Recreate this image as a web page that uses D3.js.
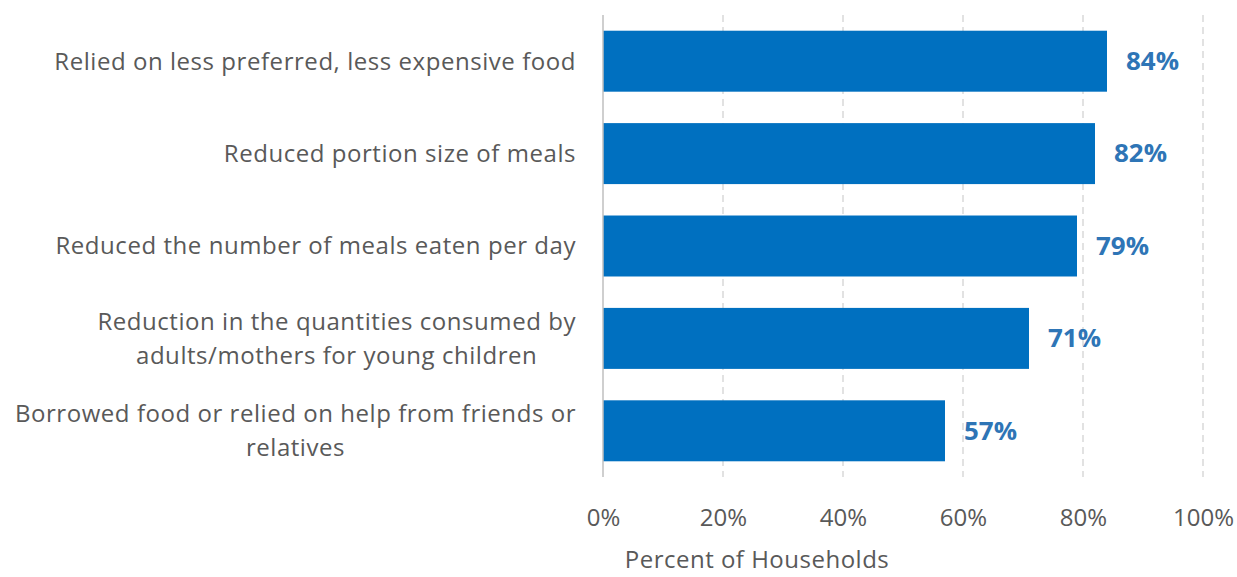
<!DOCTYPE html>
<html><head><meta charset="utf-8">
<script src="https://cdn.jsdelivr.net/npm/d3@7"></script>
<style>body{margin:0;background:#fff;} text{font-family:"Open Sans",sans-serif;}</style>
</head><body>
<svg id="c" width="1237" height="577"></svg>
<script>
const categories = [
  ["Relied on less preferred, less expensive food"],
  ["Reduced portion size of meals"],
  ["Reduced the number of meals eaten per day"],
  ["Reduction in the quantities consumed by", "adults/mothers for young children"],
  ["Borrowed food or relied on help from friends or", "relatives"]
];
const values = [84, 82, 79, 71, 57];
const tickValues = [0, 20, 40, 60, 80, 100];
const axisTitle = "Percent of Households";

const svg = d3.select("#c");
const x = d3.scaleLinear().domain([0, 100]).range([603, 1203]);
const y = d3.scaleBand().domain(d3.range(categories.length)).range([15, 477]).paddingInner(0.34).paddingOuter(0.17);

// gridlines
svg.append("g").selectAll("line").data(tickValues.filter(d => d > 0)).join("line")
  .attr("x1", d => x(d)).attr("x2", d => x(d)).attr("y1", 15).attr("y2", 477)
  .attr("stroke", "#d9d9d9").attr("stroke-width", 1.5).attr("stroke-dasharray", "7,5");

// bars
svg.append("g").selectAll("rect").data(values).join("rect")
  .attr("x", x(0)).attr("y", (d, i) => y(i)).attr("width", d => x(d) - x(0)).attr("height", y.bandwidth())
  .attr("fill", "#0070C0");

// axis line
svg.append("line").attr("x1", x(0)).attr("x2", x(0)).attr("y1", 15).attr("y2", 477)
  .attr("stroke", "#bfbfbf").attr("stroke-width", 1.5);

// value labels
svg.append("g").selectAll("text").data(values).join("text")
  .attr("x", d => x(d) + 19).attr("y", (d, i) => y(i) + y.bandwidth() / 2)
  .attr("dy", "0.35em").attr("fill", "#2E75B6").attr("font-weight", "bold").attr("font-size", 25)
  .attr("textLength", 53).attr("lengthAdjust", "spacingAndGlyphs")
  .text(d => d + "%");

// category labels
const cat = svg.append("g").selectAll("text").data(categories).join("text")
  .attr("text-anchor", "middle").attr("fill", "#595959").attr("font-size", 24)
  .attr("letter-spacing", "0.55px");
cat.each(function(lines, i) {
  const cy = y(i) + y.bandwidth() / 2;
  const lh = 34;
  const t = d3.select(this);
  lines.forEach((ln, j) => {
    t.append("tspan").attr("y", cy + (j - (lines.length - 1) / 2) * lh).attr("dy", "0.35em").text(ln);
  });
});
cat.each(function(lines, i) {
  const t = d3.select(this);
  const tspans = t.selectAll("tspan").nodes();
  const widths = tspans.map(n => n.getComputedTextLength());
  const maxW = Math.max(...widths);
  const cx = 576 - maxW / 2;
  tspans.forEach(n => d3.select(n).attr("x", cx));
});

// tick labels
const axis = d3.axisBottom(x).tickValues(tickValues).tickFormat(d => d + "%").tickSize(0);
const ag = svg.append("g").attr("transform", "translate(0,506)").call(axis);
ag.select(".domain").remove();
ag.selectAll("text").attr("font-size", 24).attr("fill", "#595959").attr("font-family", "Open Sans, sans-serif").attr("dy", "0.35em").attr("y", 12);

// axis title
svg.append("text").attr("x", 757).attr("y", 560).attr("dy", "0.35em").attr("text-anchor", "middle")
  .attr("fill", "#595959").attr("font-size", 24).attr("letter-spacing", "0.5px").text(axisTitle);
</script>
</body></html>
